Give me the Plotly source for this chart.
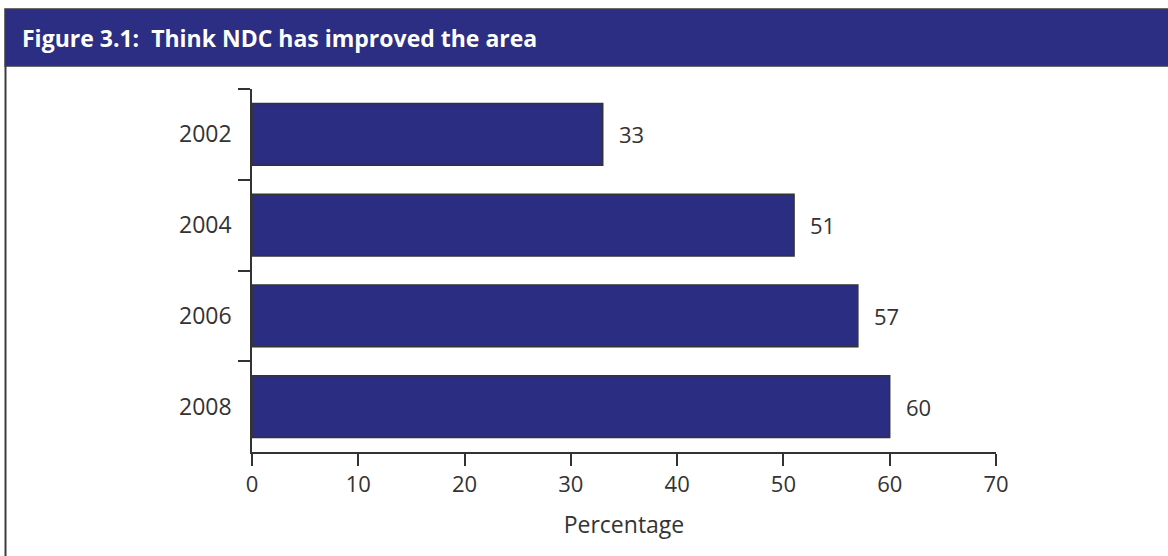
import plotly.graph_objects as go

years = ["2002", "2004", "2006", "2008"]
values = [33, 51, 57, 60]
x_ticks = [0, 10, 20, 30, 40, 50, 60, 70]

W, H = 1168, 556
L, R, T, B = 252, 996, 89, 452  # plot area in pixels

def px_x(p):
    return (p - L) / (R - L)

def px_y(p):
    return (B - p) / (B - T)

NAVY = "#2A2D82"
TXT = "#333333"
FONT = "Open Sans, Noto Sans, sans-serif"

fig = go.Figure()
fig.add_trace(go.Bar(
    x=values, y=years, orientation="h",
    marker=dict(color=NAVY, line=dict(color="#333333", width=1.5)),
    width=0.68,
    hoverinfo="skip",
))

for i, v in enumerate(values):
    fig.add_annotation(x=v, y=i, xref="x", yref="y", text=str(v),
                       showarrow=False, xanchor="left", xshift=14,
                       font=dict(size=22, color=TXT, family=FONT))

# header band
fig.add_shape(type="rect", xref="paper", yref="paper",
              x0=px_x(5), x1=px_x(1180), y0=px_y(66), y1=px_y(9),
              fillcolor="#2B2E83", line=dict(color="#3c3c3c", width=1.5), layer="below")
# left border
fig.add_shape(type="line", xref="paper", yref="paper",
              x0=px_x(5.5), x1=px_x(5.5), y0=px_y(66), y1=px_y(560),
              line=dict(color="#3c3c3c", width=2))

fig.add_annotation(xref="paper", yref="paper", x=px_x(20), y=px_y(37.5),
                   xanchor="left", yanchor="middle", showarrow=False,
                   text="<b>Figure 3.1:  Think NDC has improved the area</b>",
                   font=dict(size=23, color="white", family=FONT))

fig.update_layout(
    width=W, height=H,
    margin=dict(l=L, r=W - R, t=T, b=H - B),
    paper_bgcolor="white", plot_bgcolor="white",
    showlegend=False,
    font=dict(family=FONT, color=TXT, size=22),
    xaxis=dict(range=[0, 70], tickvals=x_ticks, ticks="outside", ticklen=12,
               tickwidth=1.5, tickcolor="#333333",
               showline=True, linecolor="#333333", linewidth=1.5,
               showgrid=False, zeroline=False,
               tickfont=dict(size=22, color=TXT),
               title=dict(text="Percentage", font=dict(size=23, color=TXT), standoff=20)),
    yaxis=dict(type="category", categoryarray=years, categoryorder="array",
               range=[3.5, -0.5], autorange=False, ticks="outside",
               tickson="boundaries", ticklen=12, tickwidth=1.5, tickcolor="#333333",
               ticklabelstandoff=14,
               showline=True, linecolor="#333333", linewidth=1.5,
               showgrid=False, zeroline=False,
               tickfont=dict(size=23, color=TXT)),
)

fig.write_html("out.html")
